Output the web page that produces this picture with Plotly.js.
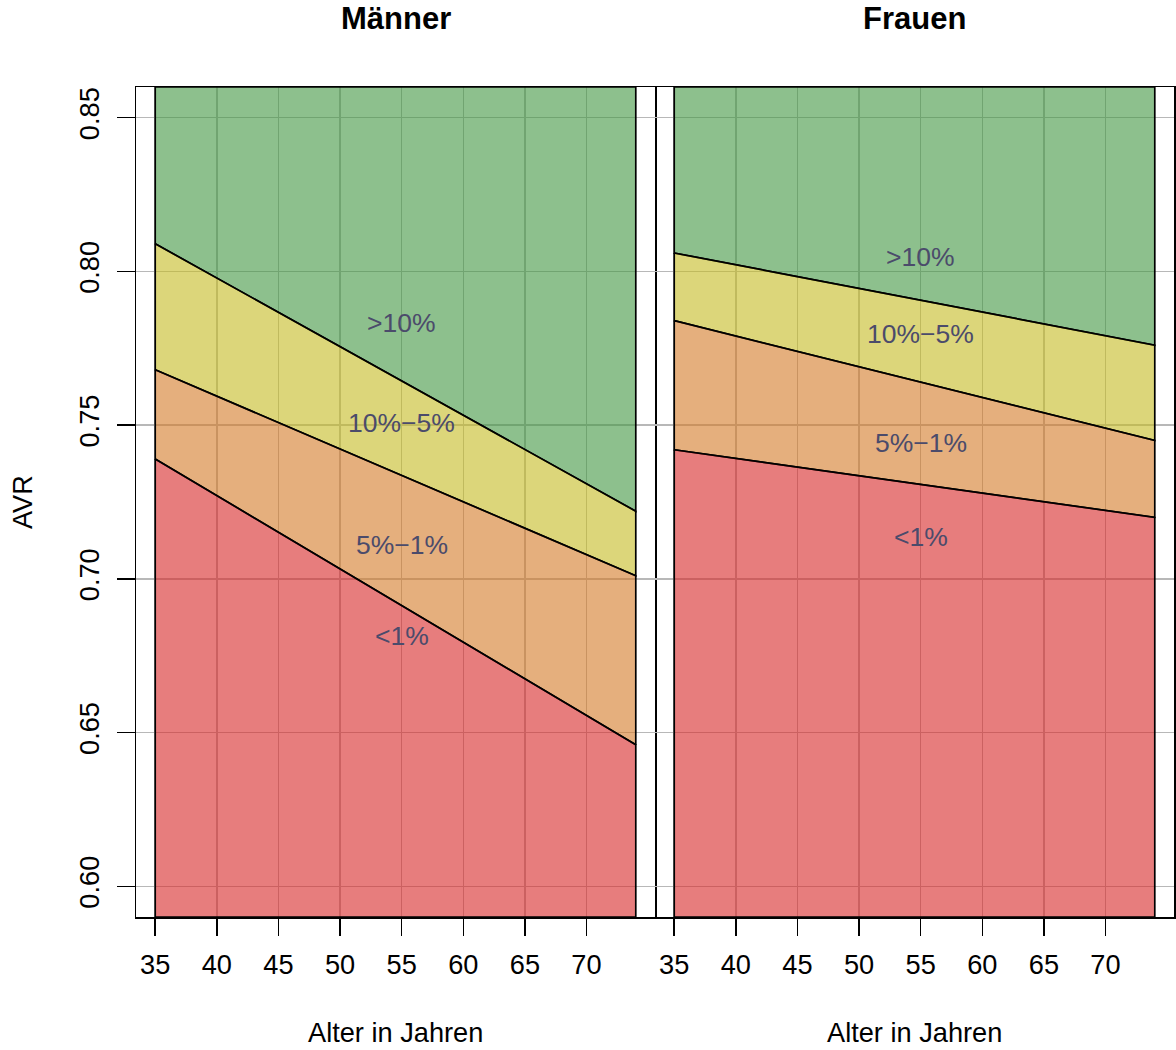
<!DOCTYPE html>
<html>
<head>
<meta charset="utf-8">
<script src="https://cdn.plot.ly/plotly-3.0.1.min.js"></script>
<style>html,body{margin:0;padding:0;background:#fff;} #chart{width:1176px;height:1050px;}</style>
</head>
<body>
<div id="chart"></div>
<script>
// ---- data ----
const ages = [35, 74];
const panels = ["Männer", "Frauen"];
const categories = [">10%", "10%\u22125%", "5%\u22121%", "<1%"];
const yTop = 0.86;
const yBottom = 0.59;
// boundaries (AVR) at age 35 and 74
const menB1 = [0.809, 0.722];   // >10% | 10%-5%
const menB2 = [0.768, 0.701];   // 10%-5% | 5%-1%
const menB3 = [0.739, 0.646];   // 5%-1% | <1%
const womenB1 = [0.806, 0.776];
const womenB2 = [0.784, 0.745];
const womenB3 = [0.742, 0.720];
// label anchor points (age, AVR)
const labelAge = [55, 55, 55, 55];
const menLabelY = [0.7833, 0.7507, 0.711, 0.6814];
const womenLabelY = [0.8048, 0.7797, 0.7442, 0.7136];
const xTicks = [35, 40, 45, 50, 55, 60, 65, 70];
const yTicks = [0.60, 0.65, 0.70, 0.75, 0.80, 0.85];
const yTickText = ["0.60", "0.65", "0.70", "0.75", "0.80", "0.85"];

// ---- styling ----
const fills = ["rgba(65,150,65,0.6)", "rgba(196,186,34,0.6)", "rgba(212,121,38,0.6)", "rgba(215,38,38,0.6)"];
const FONT = "Liberation Sans, Arial, sans-serif";
const W = 1176, H = 1050;
const px = v => v / W, py = v => 1 - v / H;

function bands(b1, b2, b3, xa, ya) {
  const upper = [[yTop, yTop], b1, b2, b3];
  const lower = [b1, b2, b3, [yBottom, yBottom]];
  return upper.map((u, i) => ({
    type: "scatter", mode: "lines", xaxis: xa, yaxis: ya,
    x: [ages[0], ages[1], ages[1], ages[0], ages[0]],
    y: [u[0], u[1], lower[i][1], lower[i][0], u[0]],
    fill: "toself", fillcolor: fills[i],
    line: {color: "#000", width: 1.7},
    hoverinfo: "skip", showlegend: false, name: categories[i]
  }));
}

const data = [
  ...bands(menB1, menB2, menB3, "x", "y"),
  ...bands(womenB1, womenB2, womenB3, "x2", "y2")
];

const annotations = [];
[[menLabelY, "x", "y"], [womenLabelY, "x2", "y2"]].forEach(([ly, xa, ya]) => {
  categories.forEach((c, i) => annotations.push({
    text: c, x: labelAge[i], y: ly[i], xref: xa, yref: ya, showarrow: false,
    font: {family: FONT, size: 26.5, color: "#4b4b6b"}, xanchor: "center", yanchor: "middle"
  }));
});
// panel titles
[[395.5, panels[0]], [914.5, panels[1]]].forEach(([cx, t]) => annotations.push({
  text: "<b>" + t + "</b>", x: px(cx), y: py(19), xref: "paper", yref: "paper",
  showarrow: false, xanchor: "center", yanchor: "middle",
  font: {family: FONT, size: 31, color: "#000"}
}));
// axis titles
[395.5, 914.5].forEach(cx => annotations.push({
  text: "Alter in Jahren", x: px(cx), y: py(1032), xref: "paper", yref: "paper",
  showarrow: false, xanchor: "center", yanchor: "middle",
  font: {family: FONT, size: 27.2, color: "#000"}
}));
annotations.push({
  text: "AVR", x: px(22), y: py(502), xref: "paper", yref: "paper", textangle: -90,
  showarrow: false, xanchor: "center", yanchor: "middle",
  font: {family: FONT, size: 27.2, color: "#000"}
});

const xCommon = {
  range: [33.44, 75.56], tickmode: "array", tickvals: xTicks, ticktext: xTicks.map(String),
  ticks: "outside", ticklen: 17, tickwidth: 1.5, tickcolor: "#000",
  showline: true, mirror: true, linecolor: "#000", linewidth: 1.5,
  showgrid: true, gridcolor: "#b8b8b8", gridwidth: 1.5, zeroline: false,
  tickfont: {family: FONT, size: 27.2, color: "#000"}, automargin: false,
  ticklabelstandoff: 6, fixedrange: true
};
const yCommon = {
  range: [yBottom, yTop], tickmode: "array", tickvals: yTicks, ticktext: yTickText,
  showline: true, linecolor: "#000", linewidth: 1.5,
  showgrid: true, gridcolor: "#b8b8b8", gridwidth: 1.5, zeroline: false,
  automargin: false, fixedrange: true
};

const layout = {
  width: W, height: H, margin: {l: 0, r: 0, t: 0, b: 0},
  paper_bgcolor: "#fff", plot_bgcolor: "rgba(0,0,0,0)", showlegend: false,
  xaxis: Object.assign({}, xCommon, {domain: [px(136), px(655)], anchor: "y"}),
  xaxis2: Object.assign({}, xCommon, {domain: [px(655), px(1174)], anchor: "y2"}),
  yaxis: Object.assign({}, yCommon, {
    domain: [py(917), py(87)], anchor: "x", mirror: true,
    ticks: "outside", ticklen: 18, tickwidth: 1.5, tickcolor: "#000", tickangle: -90,
    tickfont: {family: FONT, size: 27.2, color: "#000"}, ticklabelstandoff: 7
  }),
  yaxis2: Object.assign({}, yCommon, {
    domain: [py(917), py(87)], anchor: "x2", side: "right", mirror: false,
    ticks: "", showticklabels: false
  }),
  annotations: annotations
};

Plotly.newPlot("chart", data, layout, {displayModeBar: false, staticPlot: true});
</script>
</body>
</html>
